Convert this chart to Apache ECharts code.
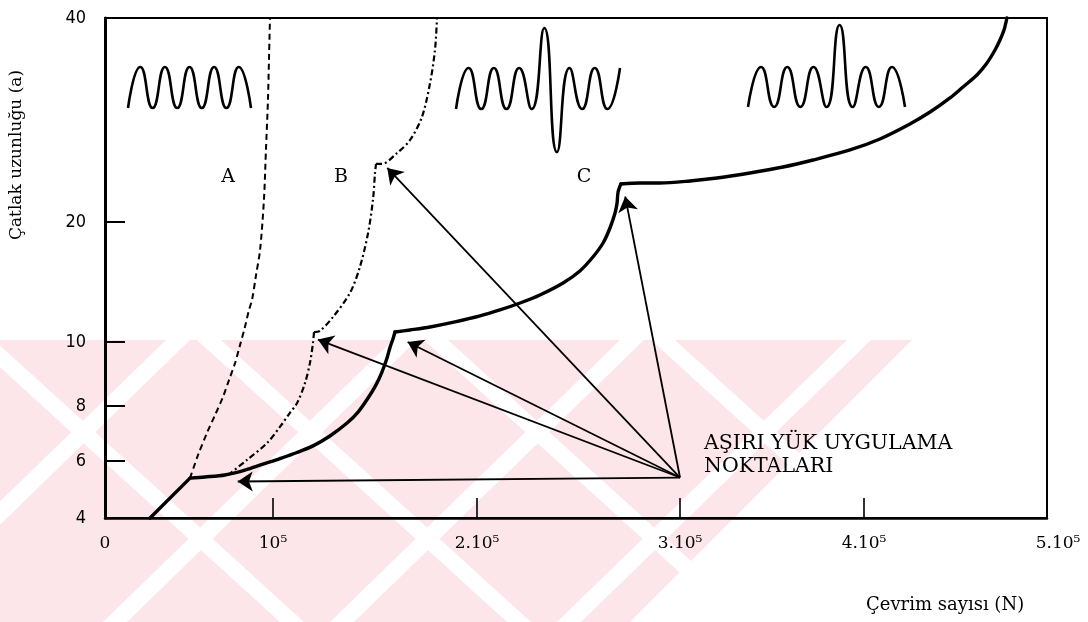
<!DOCTYPE html>
<html><head><meta charset="utf-8">
<script src="https://cdn.jsdelivr.net/npm/echarts@6/dist/echarts.min.js"></script>
<style>html,body{margin:0;padding:0;background:#fff}#c{width:1088px;height:622px}</style>
</head><body><div id="c"></div>
<script>
// ---------------- data ----------------
// x: number of cycles, in units of 10^5 ; y: crack length a
const xTickValues = [0, 1, 2, 3, 4, 5];
const xTickLabels = ['0', '10⁵', '2.10⁵', '3.10⁵', '4.10⁵', '5.10⁵'];
const yTickValues = [4, 6, 8, 10, 20, 40];
const yTickLabels = ['4', '6', '8', '10', '20', '40'];

// curve C (solid, two overloads)
const cCycles = [0.268,0.506,0.595,0.714,0.833,0.940,1.034,1.118,1.196,1.279,1.363,1.417,1.466,1.505,1.534,1.559,1.574,1.588,1.598,1.672,1.770,1.892,2.015,2.113,2.212,2.310,2.424,2.507,2.571,2.621,2.655,2.680,2.690,2.695,2.709,2.803,2.901,3.054,3.201,3.380,3.560,3.723,3.924,4.087,4.251,4.361,4.470,4.541,4.617,4.672,4.716,4.743,4.765,4.781];
const cLength = [4.0,5.40,5.44,5.51,5.68,5.89,6.09,6.31,6.55,6.91,7.38,7.78,8.25,8.66,9.06,9.50,9.84,10.25,10.83,11.0,11.25,11.67,12.17,12.67,13.25,13.92,14.92,15.92,17.08,18.25,19.5,20.88,21.86,22.94,23.73,23.82,23.82,24.02,24.31,24.80,25.39,26.08,27.06,28.14,29.61,30.78,32.16,33.24,34.41,35.59,36.86,37.84,38.82,40.0];
const cKinks = [1, 18, 34];        // indices where curve C has sharp corners
// curve A (dashed, constant amplitude)
const aCycles = [0.506,0.554,0.607,0.655,0.702,0.738,0.774,0.804,0.833,0.857,0.875,0.899,0.923,0.946,0.958,0.970,0.976,0.982];
const aLength = [5.40,6.22,7.02,7.67,8.28,8.81,9.34,9.91,11.25,12.67,13.5,15.58,17.67,22.16,27.06,31.96,35.88,40.0];
const aKinks = [];
// curve B (dash-dot)
const bCycles = [0.732,0.845,0.964,1.034,1.083,1.118,1.157,1.181,1.196,1.201,1.230,1.294,1.377,1.426,1.466,1.490,1.500,1.505,1.534,1.608,1.672,1.730,1.770,1.794,1.804];
const bLength = [5.50,6.04,6.65,7.24,7.75,8.09,8.72,9.34,9.97,10.83,10.92,12.08,14.08,16.25,19.08,22.16,24.80,25.69,25.69,26.76,28.04,30.29,33.63,36.86,40.0];
const bKinks = [9, 17];
// overload arrows: common origin and arrow tips
const arrowOrigin = [3.0, 5.42];
const arrowCycles = [0.79, 1.22, 1.66, 1.56, 2.73];
const arrowLength = [5.28, 10.2, 10.0, 25.3, 22.5];
// loading-history sketches (relative amplitude at each peak / trough)
const wave1 = [-1, 1, -1, 1, -1, 1, -1, 1, -1, 1, -1];
const wave2 = [-1, 1, -1, 1, -1, 1, -1, 2.95, -3.1, 1, -1, 1, -1, 1];
const wave3 = [-1, 1, -1, 1, -1, 1, -1, 3.1, -1, 1, -1, 1, -1];
const curveLabels = ['A', 'B', 'C'];
const noteText = ['AŞIRI YÜK UYGULAMA', 'NOKTALARI'];
const xTitle = 'Çevrim sayısı (N)';
const yTitle = 'Çatlak uzunluğu (a)';

// ---------------- scale of the hand-drawn axes ----------------
// distance of every tick from the axis origin in the original drawing (non-uniform)
const xStops = [0, 168, 372, 575, 759, 942];
const yStops = [0, 57, 112, 176, 296, 500];
function piece(v, vals, stops) {
  for (let i = 0; i < vals.length - 1; i++) {
    if (v <= vals[i + 1] || i === vals.length - 2) {
      const t = (v - vals[i]) / (vals[i + 1] - vals[i]);
      return stops[i] + t * (stops[i + 1] - stops[i]);
    }
  }
}
const sx = v => piece(v, xTickValues, xStops);
const sy = v => piece(v, yTickValues, yStops);
const pts = (xs, ys) => xs.map((x, i) => [sx(x), sy(ys[i])]);
function segments(xs, ys, kinks) {
  const p = pts(xs, ys), cuts = [0].concat(kinks, [p.length - 1]), out = [];
  for (let i = 0; i < cuts.length - 1; i++) out.push(p.slice(cuts[i], cuts[i + 1] + 1));
  return out;
}
function labelIndex(v, stops) {
  let best = 0;
  stops.forEach((s, i) => { if (Math.abs(s - v) < Math.abs(stops[best] - v)) best = i; });
  return best;
}

const SERIF = 'DejaVu Serif';
const chart = echarts.init(document.getElementById('c'), null, { renderer: 'canvas' });

const waveGrids = [
  { left: 128, top: 67, width: 123, height: 41 },
  { left: 456, top: 68, width: 164, height: 41 },
  { left: 748, top: 67, width: 157, height: 40 }
];
const waves = [wave1, wave2, wave3];

const grids = [{ left: 105, top: 18, width: 942, height: 500, show: true, borderColor: '#000', borderWidth: 2, backgroundColor: 'transparent' }]
  .concat(waveGrids);

const xAxes = [{
  type: 'value', gridIndex: 0, min: 0, max: 942,
  axisLine: { show: true, lineStyle: { color: '#000', width: 2.5 } },
  axisTick: { show: true, inside: true, length: 20, customValues: xStops.slice(1, 5), lineStyle: { color: '#000', width: 1.6 } },
  splitLine: { show: false },
  axisLabel: {
    customValues: xStops, margin: 17, color: '#000', fontFamily: SERIF, fontSize: 17,
    formatter: v => {
      const k = labelIndex(v, xStops);
      return k === xStops.length - 1 ? '{p|}' + xTickLabels[k] : xTickLabels[k];
    },
    rich: { p: { width: 22 } }
  }
}];
const yAxes = [{
  type: 'value', gridIndex: 0, min: 0, max: 500,
  axisLine: { show: true, lineStyle: { color: '#000', width: 3 } },
  axisTick: { show: true, inside: true, length: 20, customValues: yStops.slice(1, 5), lineStyle: { color: '#000', width: 2 } },
  splitLine: { show: false },
  axisLabel: {
    customValues: yStops, margin: 19, color: '#000',
    fontFamily: 'DejaVu Sans Condensed', fontSize: 18,
    formatter: v => yTickLabels[labelIndex(v, yStops)]
  }
}];
waves.forEach((w, k) => {
  xAxes.push({ type: 'value', gridIndex: k + 1, min: 0, max: w.length - 1, show: false });
  yAxes.push({ type: 'value', gridIndex: k + 1, min: -1, max: 1, show: false });
});

const series = [];
function addCurve(name, xs, ys, kinks, style, z) {
  segments(xs, ys, kinks).forEach(seg => series.push({
    type: 'line', name: name, xAxisIndex: 0, yAxisIndex: 0, data: seg, showSymbol: false, clip: false,
    smooth: 0.3, lineStyle: style, z: z }));
}
addCurve('C', cCycles, cLength, cKinks, { color: '#000', width: 3.4, join: 'round', cap: 'round' }, 5);
addCurve('A', aCycles, aLength, aKinks, { color: '#000', width: 2, type: [6, 4] }, 4);
addCurve('B', bCycles, bLength, bKinks, { color: '#000', width: 2.2, type: [6, 3, 2, 3] }, 4);
series.push({ type: 'lines', coordinateSystem: 'cartesian2d', xAxisIndex: 0, yAxisIndex: 0, z: 6,
  symbol: ['none', 'arrow'], symbolSize: 15,
  lineStyle: { color: '#000', width: 1.8, opacity: 1, curveness: 0 },
  data: arrowCycles.map((x, i) => ({ coords: [[sx(arrowOrigin[0]), sy(arrowOrigin[1])], [sx(x), sy(arrowLength[i])]] })) });
waves.forEach((w, k) => {
  series.push({ type: 'line', xAxisIndex: k + 1, yAxisIndex: k + 1, data: w.map((v, i) => [i, v]),
    smooth: 0.55, showSymbol: false, clip: false, lineStyle: { color: '#000', width: 2.6 } });
});

// pale watermark of the scanned page: pink field cut by thin white diagonal gaps
const graphics = [{ type: 'polygon', silent: true, z: -10,
  shape: { points: [[0, 340], [912, 340], [630, 622], [0, 622]] }, style: { fill: '#fce6ea' } }];
const gapW = 24;
[-30, 197, 424, 651].forEach(x0 => graphics.push({ type: 'polygon', silent: true, z: -9,
  shape: { points: [[x0, 340], [x0 + gapW, 340], [x0 + gapW + 310, 622], [x0 + 310, 622]] }, style: { fill: '#fff' } }));
[166, 393, 620, 847].forEach(x0 => graphics.push({ type: 'polygon', silent: true, z: -9,
  shape: { points: [[x0, 340], [x0 + gapW, 340], [x0 + gapW - 290, 622], [x0 - 290, 622]] }, style: { fill: '#fff' } }));

function txt(t, x, y, size, align, extra) {
  return Object.assign({ type: 'text', x: x, y: y, z: 10, silent: true,
    style: { text: t, fill: '#000', fontSize: size, fontFamily: SERIF, textAlign: align, align: align,
      textVerticalAlign: 'middle', verticalAlign: 'middle' } }, extra || {});
}
graphics.push(txt(curveLabels[0], 228, 177, 19, 'center'));
graphics.push(txt(curveLabels[1], 341, 177, 19, 'center'));
graphics.push(txt(curveLabels[2], 584, 177, 19, 'center'));
graphics.push(txt(noteText[0], 704, 444, 20.5, 'left'));
graphics.push(txt(noteText[1], 704, 467, 20.5, 'left'));
graphics.push(txt(xTitle, 866, 605, 18, 'left'));
graphics.push(txt(yTitle, 17, 155, 17, 'center', { rotation: Math.PI / 2 }));

chart.setOption({
  animation: false,
  backgroundColor: '#fff',
  grid: grids,
  xAxis: xAxes,
  yAxis: yAxes,
  series: series,
  graphic: graphics
});
</script></body></html>
